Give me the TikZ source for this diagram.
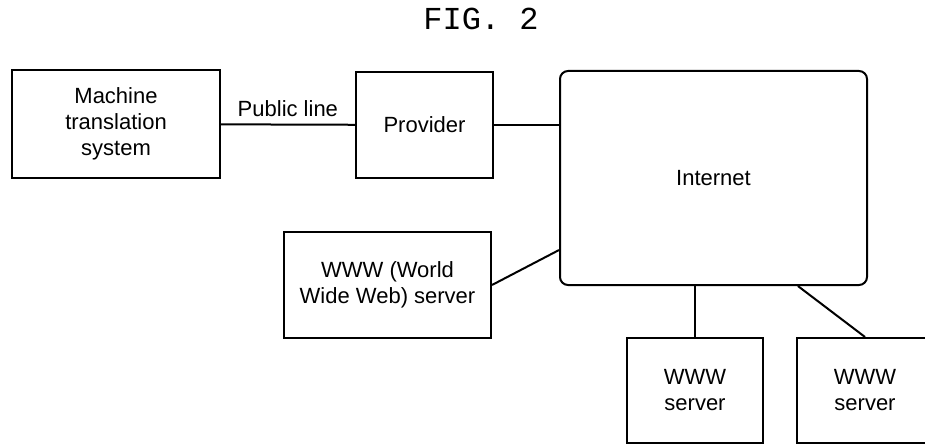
\documentclass[tikz,border=0pt]{standalone}
\usepackage{fontspec}
\setmainfont{Liberation Sans}
\newfontfamily\figfont{Liberation Mono}
\usetikzlibrary{positioning}
\tikzset{
	unitbox/.style={draw, line width=2pt, align=center, inner sep=0pt, font=\fontsize{22}{26}\selectfont},
	netbox/.style={unitbox, rounded corners=8pt},
	link/.style={line width=2pt}
}

\begin{document}
\begin{tikzpicture}[x=1pt,y=-1pt]

	\clip (0,0) rectangle (925,446);

	\node[anchor=base, font=\figfont\fontsize{32}{36}\selectfont] (fig) at (481,30) {FIG. 2};

	% front end
	\node[unitbox, minimum width=207.5pt, minimum height=108pt] (mts) at (116,124) {Machine\\translation\\system};
	\node[unitbox, minimum width=137pt, minimum height=106pt] (provider) at (424.5,125) {Provider};
	\node[netbox, minimum width=307pt, minimum height=214pt] (internet) at (713.5,178) {Internet};

	% servers
	\node[unitbox, minimum width=207pt, minimum height=106pt] (www) at (387.5,285) {WWW (World\\Wide Web) server};
	\node[unitbox, minimum width=136pt, minimum height=105pt] (srvA) at (695,390.5) {WWW\\server};
	\node[unitbox, minimum width=136pt, minimum height=105pt] (srvB) at (865,390.5) {WWW\\server};

	\draw[link] (mts) -- node[above, font=\fontsize{22}{26}\selectfont, inner sep=7pt] (publine) {Public line} (provider);
	\draw[link] (provider.east) -- (provider.east -| internet.west);
	\draw[link] (www.east) -- (internet.205);
	\draw[link] (srvA.north) -- (srvA.north |- internet.south);
	\draw[link] (srvB.north) -- (internet.308);

\end{tikzpicture}
\end{document}
